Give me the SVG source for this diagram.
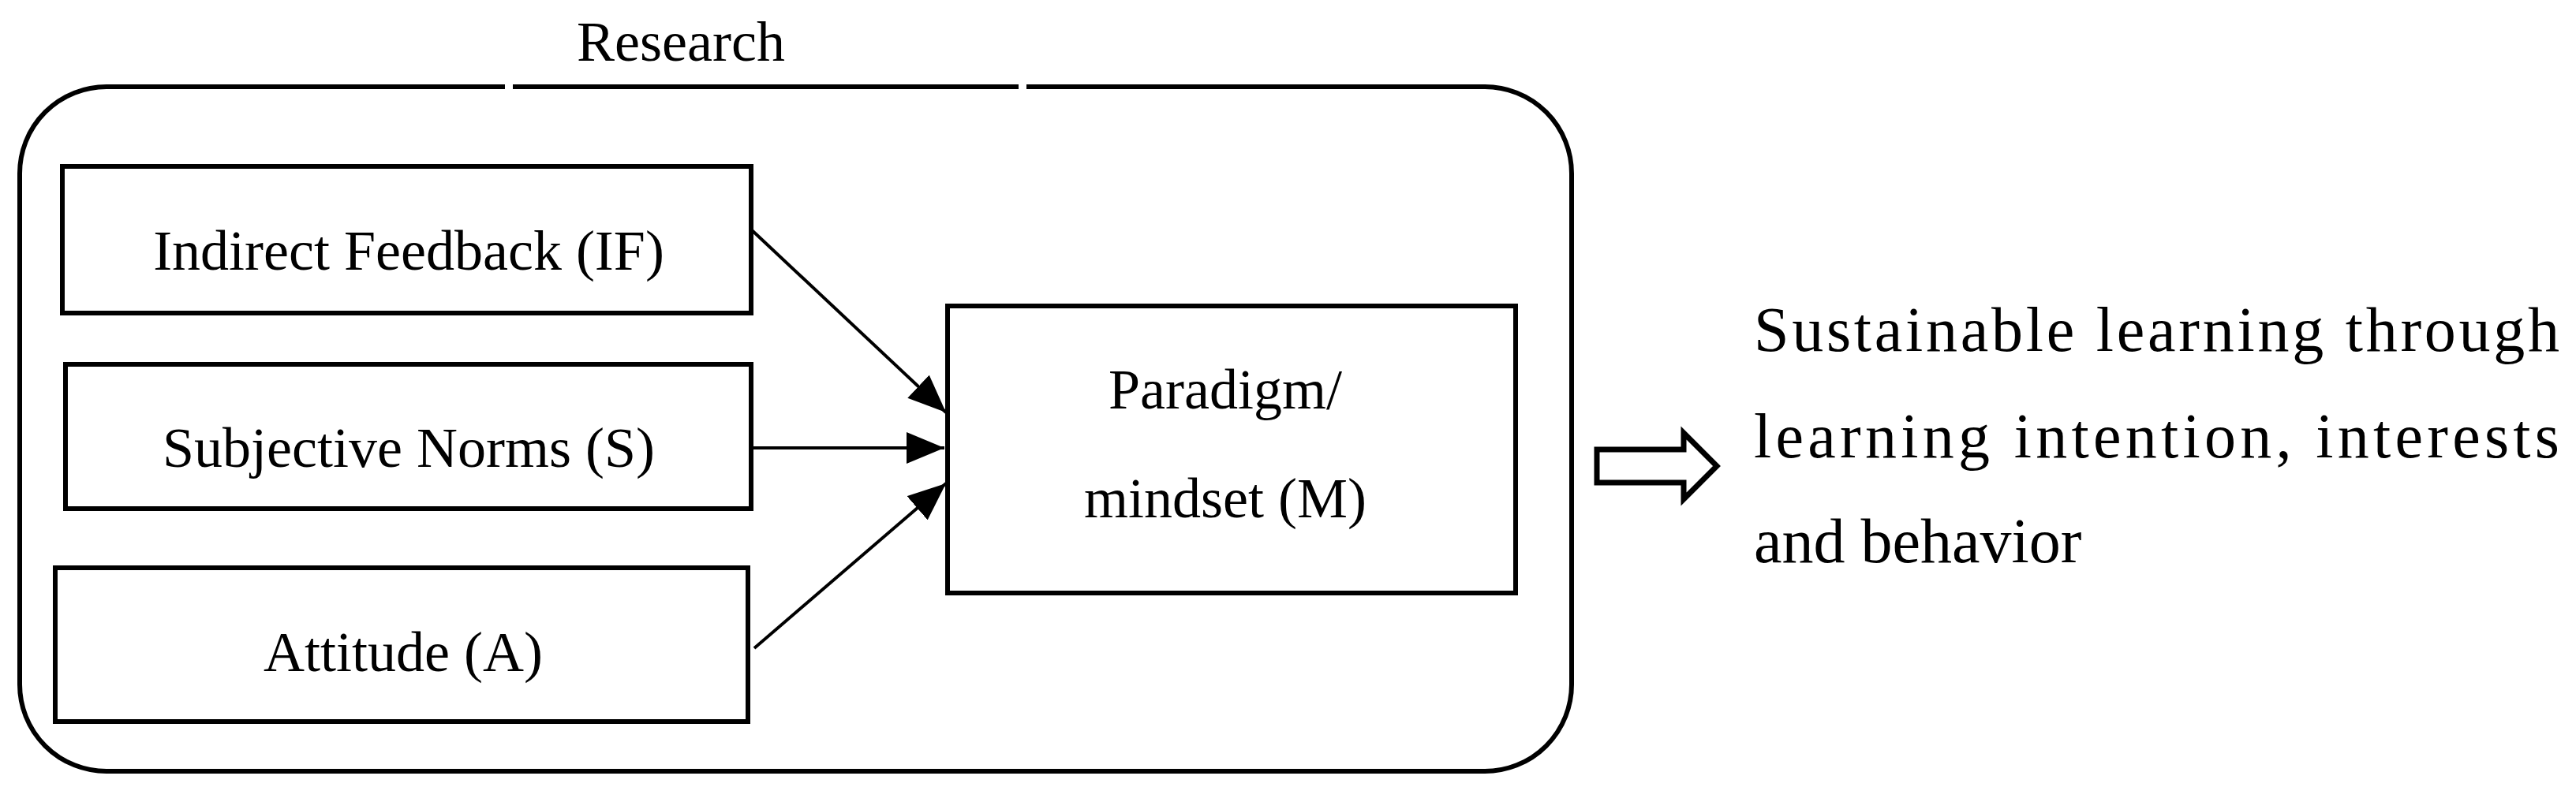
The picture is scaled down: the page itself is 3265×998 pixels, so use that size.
<svg xmlns="http://www.w3.org/2000/svg" width="3265" height="998" viewBox="0 0 3265 998">
<defs>
<style>
.b{fill:#fff;stroke:#000;stroke-width:6}
.t{font-family:"Liberation Serif","Times New Roman",serif;font-size:72px;fill:#000;text-anchor:middle}
.r{font-family:"Liberation Serif","Times New Roman",serif;font-size:80px;fill:#000}
.c{stroke:#000;stroke-width:4;fill:none}
</style>
<marker id="ah" markerWidth="12" markerHeight="10" refX="11" refY="5" orient="auto" markerUnits="userSpaceOnUse" viewBox="0 0 12 10">
<path d="M0,0 L12,5 L0,10 Z" fill="#000"/>
</marker>
<marker id="a" viewBox="0 0 12 10" refX="12" refY="5" markerWidth="48" markerHeight="40" markerUnits="userSpaceOnUse" orient="auto"><path d="M0,0 L12,5 L0,10 Z" fill="#000"/></marker>
</defs>
<rect x="0" y="0" width="3265" height="998" fill="#fff"/>
<g id="research">
<rect class="b" x="25" y="110" width="1967" height="868" rx="110" fill="none"/>
<rect x="640" y="100" width="10" height="20" fill="#fff"/>
<rect x="1291" y="100" width="10" height="20" fill="#fff"/>
<text class="t" x="863" y="77" font-size="76">Research</text>
</g>
<g id="if"><rect class="b" x="79" y="211" width="873" height="186"/><text class="t" x="518" y="342">Indirect Feedback (IF)</text></g>
<g id="s"><rect class="b" x="83" y="462" width="869" height="183"/><text class="t" x="518" y="592">Subjective Norms (S)</text></g>
<g id="a_"><rect class="b" x="70" y="720" width="878" height="195"/><text class="t" x="511" y="851">Attitude (A)</text></g>
<g id="m"><rect class="b" x="1201" y="388" width="720" height="364"/><text class="t" x="1553" y="518">Paradigm/</text><text class="t" x="1553" y="656">mindset (M)</text></g>
<g id="connectors">
<line class="c" x1="952" y1="291" x2="1199" y2="523" marker-end="url(#a)"/>
<line class="c" x1="952" y1="568" x2="1197" y2="568" marker-end="url(#a)"/>
<line class="c" x1="956" y1="822" x2="1199" y2="613" marker-end="url(#a)"/>
<path d="M2024,570 H2134 V549 L2176,591 L2134,633 V612 H2024 Z" fill="#fff" stroke="#000" stroke-width="7"/>
</g>
<g id="outcome">
<text class="r" x="2223" y="445" textLength="1021" lengthAdjust="spacing">Sustainable learning through</text>
<text class="r" x="2223" y="580" textLength="1021" lengthAdjust="spacing">learning intention, interests</text>
<text class="r" x="2223" y="713">and behavior</text>
</g>
</svg>
